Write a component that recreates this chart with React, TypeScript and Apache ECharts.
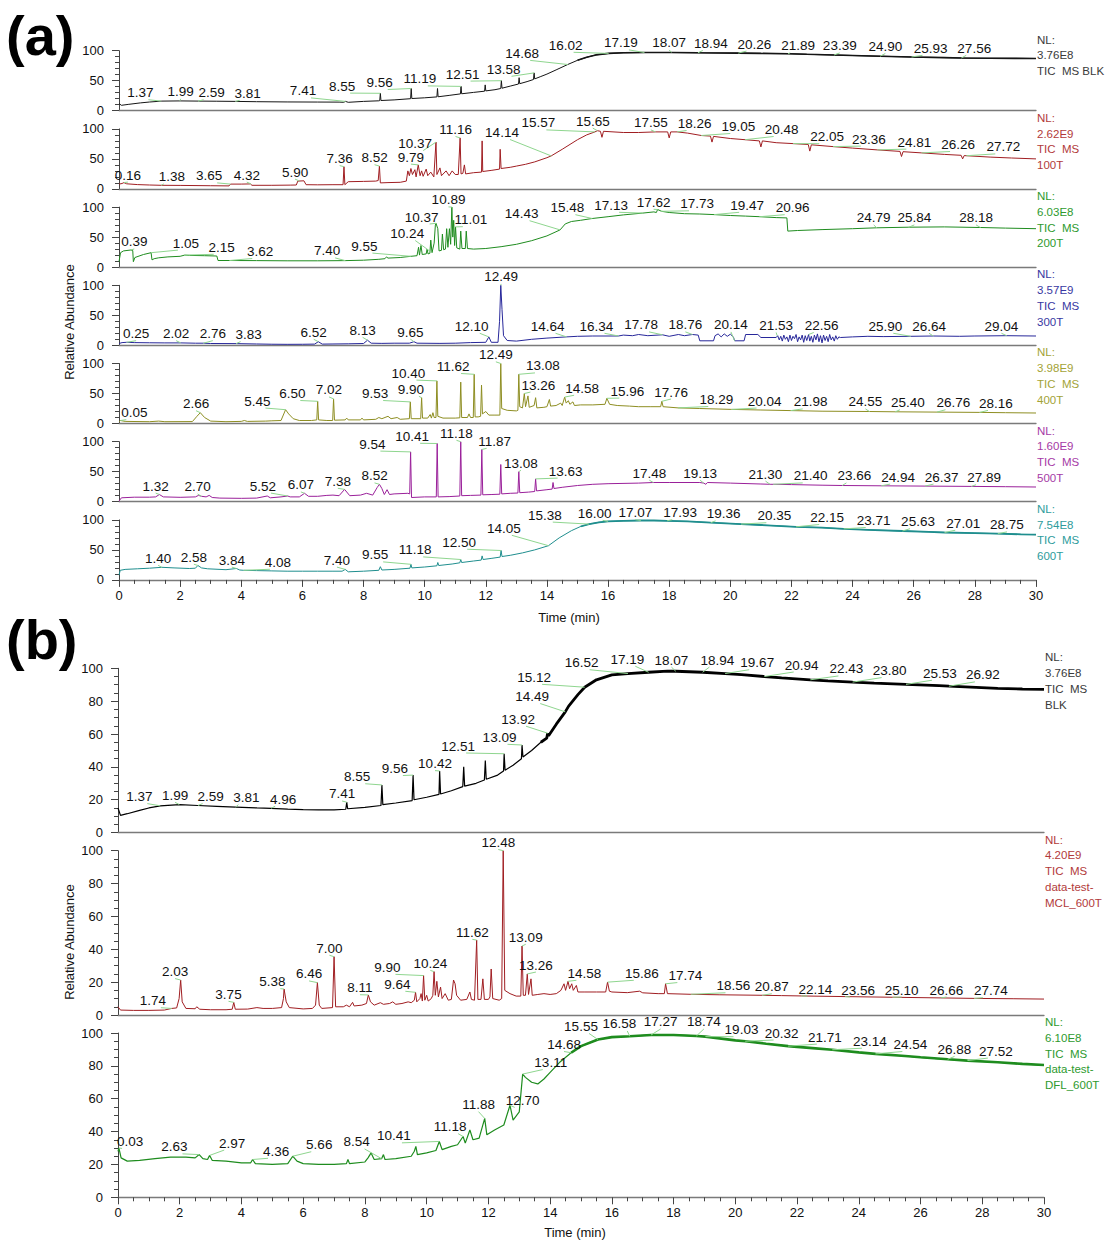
import React, { useEffect, useRef } from "react";
import * as echarts from "echarts";

type P = [number, number];
type L = [string, number, number];

// ---------- traces (time min, relative abundance %) ----------
const A1_BLK: P[] = [[0,12],[0.08,9],[0.3,10.5],[0.7,13],[1.0,14.5],[1.4,16],[2.0,16.3],[2.6,16],[3.2,15.8],[3.81,15.5],[4.5,15],[5.5,14.6],[6.5,14.4],[7.2,14.3],[7.35,14],[7.41,15.5],[7.5,14],[8.0,15.5],[8.5,16.5],[8.53,16.8],[8.55,29],[8.57,17],[9.0,18],[9.54,20],[9.56,37],[9.58,20.3],[10.0,21.5],[10.4,23],[10.42,37],[10.44,23.2],[10.8,25.5],[11.17,28],[11.19,40.5],[11.21,28.2],[11.6,30.5],[11.96,32.5],[11.98,43],[12.0,33],[12.3,35],[12.49,37],[12.51,50],[12.53,37.5],[12.8,41],[13.07,44.5],[13.09,55],[13.11,45],[13.35,48.5],[13.56,52],[13.58,63],[13.6,53],[13.8,57],[14.0,61],[14.3,68],[14.68,77],[15.0,84],[15.3,89],[15.6,93],[16.02,95.5],[16.5,96.5],[17.19,97],[18.07,97],[18.94,96.5],[20.26,96],[21.0,95.5],[21.89,95],[22.5,94],[23.39,92.8],[24.0,92],[24.9,90.8],[25.93,89.5],[27.0,88.5],[27.56,87.8],[28.5,87.3],[29.3,87.2],[30,87]];

const A2_100T: P[] = [[0,8],[0.1,9],[0.16,10.5],[0.25,8.5],[0.6,7.2],[1.0,6.5],[1.38,6],[2.0,5.8],[3.0,5.3],[3.6,5],[3.65,8],[4.0,8],[4.3,8.3],[4.35,6],[5.0,6],[5.6,6.3],[5.8,6.5],[5.85,13],[6.05,13.5],[6.12,7],[6.5,6.8],[7.0,7],[7.33,7],[7.36,37],[7.39,7],[7.5,12],[8.0,12.5],[8.4,13],[8.48,14],[8.52,38],[8.55,10],[8.8,10.5],[9.2,11],[9.4,13],[9.45,30],[9.5,22],[9.55,34],[9.6,24],[9.68,32],[9.72,20],[9.79,40],[9.85,22],[9.9,30],[9.95,21],[10.05,33],[10.1,22],[10.2,28],[10.3,20],[10.37,78],[10.4,24],[10.5,35],[10.55,22],[10.7,30],[10.8,22],[10.9,30],[11.0,24],[11.1,24],[11.16,85],[11.19,25],[11.25,26],[11.3,40],[11.34,25],[11.6,27],[11.86,28],[11.88,80],[11.9,29],[12.2,31],[12.45,33],[12.47,66],[12.5,34],[12.8,36],[13.0,38],[13.3,41],[13.6,45],[14.0,52],[14.14,55],[14.5,66],[15.0,82],[15.3,90],[15.57,95],[15.65,97],[15.75,96],[15.8,86],[15.85,96],[16.5,94],[17.0,94],[17.55,95],[17.95,95],[18.0,85],[18.05,95],[18.26,95],[18.6,93],[19.05,89],[19.35,88],[19.4,78],[19.45,87.5],[20.0,84],[20.48,82],[20.95,80],[21.0,70],[21.05,80],[21.5,77],[22.05,75.5],[22.55,74],[22.6,63],[22.65,73.5],[23.36,70.5],[24.0,68],[24.81,65],[25.55,62.5],[25.6,54],[25.65,62],[26.26,60],[27.0,57.5],[27.55,56],[27.6,50],[27.65,55.5],[28.5,53],[29.2,51.5],[30,50]];

const A3_200T: P[] = [[0,9],[0.05,24],[0.15,27],[0.39,28.5],[0.45,27.5],[0.47,9],[0.52,16],[0.8,21],[1.05,24],[1.08,12],[1.15,14],[1.3,15.5],[1.6,17],[2.0,18],[2.15,20],[2.3,19.5],[2.8,19],[3.2,18.5],[3.24,11],[3.62,11],[4.5,10.8],[5.5,10.5],[6.5,10.5],[7.4,10.8],[8.0,11.5],[8.5,13],[8.7,14],[8.75,17],[8.8,15],[9.2,16],[9.55,18],[9.75,19],[9.8,33],[9.83,20],[9.88,36],[9.92,21],[10.05,22],[10.08,30],[10.11,22],[10.17,23],[10.2,45],[10.24,24],[10.31,40],[10.35,70],[10.37,73],[10.43,64],[10.47,27],[10.55,28],[10.58,55],[10.62,29],[10.68,30],[10.72,64],[10.76,33],[10.81,64],[10.85,38],[10.89,100],[10.92,50],[10.95,78],[10.98,36],[11.01,67],[11.05,32],[11.15,30],[11.18,60],[11.22,31],[11.33,31],[11.36,60],[11.4,31],[11.6,30],[12.0,31],[12.5,34],[13.0,38],[13.5,44],[14.0,52],[14.43,62],[14.6,72],[14.8,76],[15.1,78],[15.48,81],[16.0,84],[16.5,87],[17.13,90],[17.5,92],[17.58,91],[17.62,96],[17.75,93],[18.0,91],[18.5,89],[19.0,88.5],[19.47,87.5],[20.0,86],[20.5,85],[20.96,84],[21.5,82.5],[21.85,82],[21.88,60],[22.2,61],[23.0,62.5],[24.0,64],[24.79,65.5],[25.84,66.5],[27.0,67],[28.18,66],[29.0,65],[30,64]];

const A4_300T: P[] = [[0,3],[0.1,4.5],[0.25,5],[0.5,4.5],[1.0,4.2],[1.5,4],[2.02,4],[2.5,3.5],[2.76,3.5],[3.0,3],[3.83,2.8],[4.5,2.2],[5.0,1.8],[5.5,1.6],[6.0,1.7],[6.4,2],[6.52,6],[6.65,2],[7.0,2.2],[7.5,2.5],[8.0,3],[8.13,8.5],[8.25,3.5],[8.6,3.2],[9.0,3.5],[9.5,3.5],[9.65,6],[9.75,3.5],[10.5,3.2],[11.0,3.5],[11.5,4.5],[12.0,5],[12.1,14],[12.18,5],[12.4,5],[12.45,40],[12.49,100],[12.53,60],[12.58,16],[12.7,8],[13.0,7],[13.5,10],[14.0,12],[14.64,14],[15.0,15],[15.5,15.5],[16.34,15.5],[16.5,17],[16.8,16],[17.0,18],[17.3,16],[17.78,17.5],[18.0,15],[18.3,18],[18.5,16],[18.76,18],[18.95,17],[19.0,7.5],[19.45,7.5],[19.5,16],[19.6,19],[19.7,14],[19.8,19],[19.9,15],[20.0,18.5],[20.1,14],[20.14,7.5],[20.45,7.5],[20.5,18],[20.9,18],[21.0,13],[21.5,13],[21.55,16],[21.6,9],[21.65,15],[21.7,7],[21.75,17],[21.8,10],[21.85,14],[21.9,6],[21.95,17],[22.0,8],[22.05,15],[22.1,11],[22.15,18],[22.2,6],[22.25,14],[22.3,9],[22.35,17],[22.4,5],[22.45,16],[22.5,8],[22.56,18],[22.6,7],[22.65,15],[22.7,5],[22.75,17],[22.8,9],[22.85,19],[22.9,6],[22.95,16],[23.0,4],[23.05,17],[23.1,8],[23.15,15],[23.2,6],[23.25,18],[23.3,9],[23.35,14],[23.4,7],[23.45,16],[23.5,10],[23.55,14],[23.6,13],[24.0,14],[24.5,15],[25.0,14.5],[25.9,15],[26.64,15.5],[27.5,15],[28.0,15.5],[29.04,16],[30,15.5]];

const A5_400T: P[] = [[0,3],[0.05,5],[0.2,3.5],[1.0,3],[1.3,4],[1.5,3],[2.4,3.2],[2.55,12],[2.66,18],[2.8,10],[3.0,4],[3.5,3],[4.0,3.5],[4.1,5],[4.2,3.5],[4.8,4],[5.0,4.5],[5.3,5],[5.45,23],[5.55,16],[5.7,8],[5.9,5],[6.3,5],[6.47,6],[6.5,37],[6.53,6],[6.8,5],[6.99,5],[7.02,41],[7.05,5.5],[7.4,6],[7.45,9],[7.5,6],[7.9,6],[7.95,9],[8.0,6],[8.4,7],[8.5,10],[8.6,8],[8.8,12],[8.9,8],[9.1,10],[9.2,7],[9.5,8],[9.53,36],[9.56,8],[9.87,8],[9.9,43],[9.93,9],[10.1,9],[10.18,15],[10.22,9],[10.27,18],[10.31,10],[10.37,10],[10.4,71],[10.43,12],[10.6,9],[11.0,9],[11.15,9.5],[11.18,69],[11.21,10],[11.4,10],[11.45,16],[11.5,10],[11.59,10],[11.62,82],[11.65,11],[11.75,11],[11.83,12],[11.86,64],[11.89,16],[12.0,20],[12.1,14],[12.3,14],[12.46,14],[12.49,100],[12.52,25],[12.7,22],[13.0,21],[13.05,22],[13.08,82],[13.11,28],[13.2,26],[13.26,50],[13.3,28],[13.38,46],[13.42,27],[13.58,30],[13.63,43],[13.67,26],[13.9,27],[14.0,28],[14.08,40],[14.12,29],[14.3,30],[14.45,34],[14.5,30],[14.58,44],[14.63,34],[14.7,38],[14.75,32],[14.85,36],[14.9,30],[15.1,31],[15.5,31],[15.9,32],[15.96,42],[16.05,32],[16.3,30],[16.7,29],[17.0,28],[17.4,28],[17.72,28],[17.76,37],[17.8,28],[18.29,26],[19.0,25],[20.04,23.5],[21.0,22.5],[21.98,21.5],[23.0,20.5],[24.55,20],[25.4,19.5],[26.76,19],[28.16,18.5],[29.0,18],[30,17.5]];

const A6_500T: P[] = [[0,1],[0.08,6.5],[0.5,7.5],[1.0,7.5],[1.2,8],[1.32,12],[1.45,8],[2.0,7.3],[2.5,8],[2.6,10.5],[2.7,9],[2.85,8],[2.95,10.5],[3.05,7],[3.3,6],[4.0,5.6],[4.5,6],[4.85,9.5],[4.95,6.5],[5.3,8],[5.52,9.5],[5.6,8],[5.9,8],[6.07,14],[6.2,9],[6.5,9],[6.8,10.5],[7.0,11],[7.2,10],[7.38,20.5],[7.55,10],[7.9,11],[8.1,14],[8.3,11],[8.45,24],[8.52,29],[8.6,22],[8.68,12],[8.77,20],[8.85,12],[9.0,13],[9.45,14],[9.51,13],[9.54,83],[9.57,7],[10.0,8],[10.38,8],[10.41,97],[10.44,8],[10.8,8.5],[11.15,9.5],[11.18,100],[11.21,10],[11.5,10.5],[11.84,11],[11.87,87],[11.9,11.5],[12.2,12],[12.46,12.5],[12.49,62],[12.52,13],[12.8,14],[13.05,14.5],[13.08,50],[13.11,15],[13.4,16],[13.6,17],[13.63,38],[13.66,18],[14.0,20],[14.17,21],[14.2,32],[14.23,22],[14.5,24],[15.0,27],[15.5,29],[16.0,30],[17.0,31],[17.48,32],[18.0,32],[19.0,32],[19.13,31],[19.2,29],[19.25,32],[20.0,31],[21.0,29.5],[21.3,29],[21.4,29],[22.0,28.5],[23.0,27.5],[23.66,27],[24.94,26.5],[26.37,26],[27.89,25.5],[29.0,25],[30,24.5]];

const A7_600T: P[] = [[0,8],[0.04,16],[0.2,17.5],[0.6,18.5],[1.0,19.5],[1.4,21],[1.8,20],[2.3,19],[2.5,19.5],[2.58,24],[2.7,20],[2.9,18.5],[3.5,17],[3.84,19],[3.95,16.5],[4.08,16],[4.5,15.5],[5.0,15],[5.5,14.5],[6.0,14.5],[6.5,14.5],[7.0,14.5],[7.3,14.5],[7.4,17.5],[7.5,13.5],[8.0,14.5],[8.5,16],[8.55,22],[8.6,16.5],[9.0,17.5],[9.52,19.5],[9.55,26],[9.58,20],[10.0,21.5],[10.4,23.5],[10.43,29],[10.46,24],[10.9,26.5],[11.15,28.5],[11.18,34],[11.21,29],[11.6,31.5],[11.85,33],[11.88,40],[11.91,34],[12.2,36],[12.47,38],[12.5,49],[12.53,39],[12.8,41],[13.2,45],[13.6,50],[14.05,57],[14.4,70],[14.8,82],[15.1,89],[15.38,93],[15.7,96],[16.0,97.5],[16.5,98.5],[17.07,99],[17.5,99],[17.93,98.5],[18.6,97.5],[19.36,95.5],[20.35,93],[21.0,91.5],[22.15,88.5],[23.0,87],[23.71,85],[24.5,83.5],[25.63,81.5],[26.5,80],[27.01,79],[28.0,78],[28.75,77],[29.5,76],[30,75.5]];

const B1_BLK: P[] = [[0,15],[0.08,10.5],[0.3,11.5],[0.7,13.5],[1.0,15],[1.37,16.3],[1.99,17],[2.59,16.5],[3.2,16],[3.81,15.5],[4.5,15],[4.96,14.8],[5.5,14.3],[6.0,14],[6.5,13.8],[7.0,13.8],[7.38,14.2],[7.41,18.5],[7.44,14.5],[8.0,15.3],[8.52,16.5],[8.55,29],[8.58,17],[9.0,18],[9.53,19.5],[9.56,35],[9.59,20],[10.0,21.5],[10.4,23.3],[10.42,37.5],[10.45,23.5],[10.8,25.5],[11.17,28],[11.2,40],[11.23,28.3],[11.6,30],[11.87,32],[11.9,43.8],[11.93,32.5],[12.3,35],[12.49,37.5],[12.51,48],[12.54,38],[12.8,41],[13.07,45],[13.09,53.3],[13.12,46],[13.4,50],[13.7,55],[13.89,57.5],[13.92,60.5],[13.95,59],[14.2,66],[14.49,73.5],[14.6,77],[14.9,84],[15.12,88.5],[15.5,93],[16.0,96],[16.52,96.8],[17.19,97.6],[17.8,98.3],[18.07,98.2],[18.94,97.6],[19.67,96.8],[20.2,96.2],[20.94,95],[21.5,94.2],[22.43,93],[23.0,92.4],[23.8,91.6],[24.5,91],[25.53,90.2],[26.6,89.4],[26.92,89.1],[27.8,88.4],[28.5,87.8],[29.3,87.4],[30,87.2]];

const B2_MCL: P[] = [[0,5],[0.08,3],[0.5,2.8],[1.0,2.8],[1.5,3],[1.74,4],[1.9,4.3],[1.98,10],[2.03,21.3],[2.08,8],[2.2,4],[2.5,3.8],[2.55,5],[2.65,3.5],[3.0,3.2],[3.5,3.2],[3.7,3.5],[3.75,7.7],[3.8,3.5],[4.2,3.6],[4.5,4.5],[4.7,4],[5.0,4],[5.3,4.5],[5.36,10],[5.38,15.8],[5.45,8],[5.55,4.5],[6.0,3.7],[6.3,4],[6.4,6],[6.46,19.7],[6.52,6],[6.6,4],[6.95,4.5],[7.0,35.5],[7.05,5],[7.3,5],[7.4,6],[7.5,5],[7.6,7.7],[7.65,5.5],[7.9,6],[8.05,7],[8.11,12.2],[8.18,8],[8.3,6],[8.5,7.5],[8.6,6.5],[8.8,7],[8.9,8],[9.0,6.5],[9.2,7],[9.4,8],[9.5,7.5],[9.6,9],[9.64,13.8],[9.68,8],[9.78,10],[9.82,13],[9.86,8.5],[9.9,24],[9.94,9],[10.0,12],[10.05,8.5],[10.15,10],[10.2,12],[10.24,26.4],[10.28,12],[10.33,20.5],[10.38,11],[10.45,17],[10.5,10],[10.6,13],[10.7,9],[10.8,9.5],[10.87,21.3],[10.92,19],[10.97,12],[11.1,9],[11.3,9.5],[11.4,14],[11.45,9.5],[11.55,9],[11.62,45.6],[11.66,9.5],[11.76,9.5],[11.82,22],[11.87,9.5],[12.0,9.5],[12.05,11],[12.09,28],[12.14,10],[12.35,9],[12.43,10],[12.48,100],[12.53,15],[12.7,13],[12.9,11.5],[13.05,11.5],[13.09,42],[13.13,12],[13.2,12],[13.26,25],[13.3,12.5],[13.38,22],[13.42,12],[13.6,12.5],[13.8,13],[14.0,12.5],[14.2,13],[14.35,15],[14.45,19],[14.5,15],[14.58,20.5],[14.63,16],[14.7,19],[14.75,15],[14.85,18],[14.9,14],[15.1,14],[15.5,14],[15.8,14],[15.86,20],[15.92,14.5],[16.0,14],[16.5,13.6],[16.9,14.5],[17.0,13.5],[17.5,13],[17.7,13],[17.74,19],[17.8,13],[18.56,12.6],[19.5,12.3],[20.87,12],[21.5,11.8],[22.14,11.6],[23.56,11.2],[25.1,10.8],[26.66,10.4],[27.74,10.1],[29,9.9],[30,9.7]];

const B3_DFL: P[] = [[0,28],[0.03,30],[0.1,24],[0.3,22],[0.7,22.5],[1.2,23.5],[1.7,24.5],[2.2,24.5],[2.5,24],[2.63,26],[2.75,23.5],[2.9,23],[2.97,25.5],[3.05,22.5],[3.5,22],[4.0,21],[4.3,21],[4.36,23],[4.45,20.5],[5.0,20],[5.5,20.5],[5.66,25],[5.8,22],[6.0,20.5],[6.5,20],[7.0,20],[7.4,20.5],[7.45,23],[7.5,20.5],[8.0,21.5],[8.1,24],[8.2,27],[8.3,23],[8.54,23.5],[8.6,26],[8.65,23],[9.0,23.5],[9.5,25],[9.6,28],[9.65,31],[9.7,26],[10.0,27],[10.3,28.5],[10.41,34],[10.5,29],[10.8,31],[11.0,32],[11.18,37],[11.25,33],[11.4,41],[11.5,35],[11.7,36],[11.88,48],[11.95,38],[12.2,41],[12.5,44],[12.7,56],[12.8,47],[13.0,52],[13.11,75],[13.2,73],[13.4,70],[13.6,69],[13.8,72],[14.0,76],[14.3,82],[14.68,88],[15.0,92],[15.55,96],[16.0,97.5],[16.58,98],[17.27,98.8],[18.0,98.8],[18.74,98.2],[19.03,97.8],[20.0,95.5],[20.32,95],[21.0,93.5],[21.71,92],[22.5,90.8],[23.14,89.8],[24.0,88.2],[24.54,87.3],[25.5,86],[26.0,85.2],[26.88,84],[27.52,83.2],[28.5,82.2],[29.3,81.2],[30,80.5]];

// ---------- peak labels: [retention time, label time, label abundance] ----------
const LA1: L[] = [["1.37",0.70,30],["1.99",2.02,31.5],["2.59",3.03,30],["3.81",4.21,29],["7.41",6.02,33],["8.55",7.30,41],["9.56",8.53,47],["11.19",9.84,53],["12.51",11.24,61],["13.58",12.58,69],["14.68",13.19,95.5],["16.02",14.61,109],["17.19",16.42,113],["18.07",18.0,113],["18.94",19.36,112],["20.26",20.79,111],["21.89",22.22,108],["23.39",23.58,108],["24.90",25.07,107],["25.93",26.55,104],["27.56",27.98,104]];
const LA2: L[] = [["0.16",0.29,23],["1.38",1.73,20],["3.65",2.95,21.7],["4.32",4.18,23],["5.90",5.76,28],["7.36",7.22,50.5],["8.52",8.36,52],["9.79",9.55,53],["10.37",9.69,75.5],["11.16",11.01,99],["14.14",12.53,94],["15.57",13.72,110],["15.65",15.5,113],["17.55",17.4,110],["18.26",18.83,109],["19.05",20.26,104],["20.48",21.68,99],["22.05",23.17,87],["23.36",24.53,83],["24.81",26.02,78],["26.26",27.45,74],["27.72",28.93,70]];
const LA3: L[] = [["0.39",0.5,42],["1.05",2.19,40],["2.15",3.36,33],["3.62",4.62,26],["7.40",6.81,27],["9.55",8.03,35],["10.24",9.43,56],["10.37",9.9,83.5],["10.89",10.78,112],["11.01",11.51,79],["14.43",13.17,89],["15.48",14.67,99],["17.13",16.1,103],["17.62",17.49,108],["17.73",18.91,105.5],["19.47",20.55,103],["20.96",22.04,99],["24.79",24.69,82],["25.84",26.02,82],["28.18",28.04,82]];
const LA4: L[] = [["0.25",0.56,19.4],["2.02",1.87,19.4],["2.76",3.07,19.4],["3.83",4.24,17.8],["6.52",6.37,21.7],["8.13",7.97,25],["9.65",9.53,22],["12.10",11.54,31.7],["12.49",12.5,114],["14.64",14.02,31.7],["16.34",15.62,31.7],["17.78",17.08,34],["18.76",18.53,34],["20.14",20.02,34],["21.53",21.5,33],["22.56",22.99,33],["25.90",25.07,31.7],["26.64",26.5,31.7],["29.04",28.87,31.7]];
const LA5: L[] = [["0.05",0.5,18],["2.66",2.52,33],["5.45",4.53,37.4],["6.50",5.67,50],["7.02",6.87,56],["9.53",8.38,50],["9.90",9.55,57],["10.40",9.47,84],["11.62",10.93,95],["12.49",12.33,114.5],["13.08",13.87,96],["13.26",13.72,64],["14.58",15.15,58.7],["15.96",16.63,54],["17.76",18.06,52.5],["18.29",19.54,40],["20.04",21.12,37.4],["21.98",22.63,36],["24.55",24.42,36],["25.40",25.81,34.6],["26.76",27.3,34.6],["28.16",28.69,33.5]];
const LA6: L[] = [["1.32",1.2,26],["2.70",2.57,24.6],["5.52",4.71,26],["6.07",5.95,28],["7.38",7.16,34],["8.52",8.36,43],["9.54",8.29,96],["10.41",9.59,109],["11.18",11.04,114],["11.87",12.29,100.6],["13.08",13.15,64],["13.63",14.61,51],["17.48",17.35,47.5],["19.13",19.01,47.5],["21.30",21.15,46],["21.40",22.63,43],["23.66",24.06,43],["24.94",25.49,41],["26.37",26.91,41],["27.89",28.3,40]];
const LA7: L[] = [["1.40",1.28,36],["2.58",2.45,37.8],["3.84",3.69,33],["4.08",5.2,29.4],["7.40",7.13,33],["9.55",8.38,41.7],["11.18",9.69,50],["12.50",11.13,62.8],["14.05",12.59,86],["15.38",13.93,108],["16.00",15.56,111],["17.07",16.89,112],["17.93",18.36,112],["19.36",19.78,110],["20.35",21.44,107],["22.15",23.17,104],["23.71",24.69,99],["25.63",26.14,97],["27.01",27.62,94.4],["28.75",29.05,91.7]];
const LB1: L[] = [["1.37",0.69,21.9],["1.99",1.85,22.7],["2.59",3.0,21.9],["3.81",4.16,21.3],["4.96",5.35,20.3],["7.41",7.26,23.5],["8.55",7.75,34],["9.56",8.97,39],["10.42",10.27,42],["12.51",11.02,52.7],["13.09",12.36,58],["13.92",12.96,69],["14.49",13.42,82.8],["15.12",13.48,94.5],["16.52",15.02,103.4],["17.19",16.5,105.5],["18.07",17.93,105],["18.94",19.42,105],["19.67",20.71,103.4],["20.94",22.15,102],["22.43",23.6,99.6],["23.80",25.0,98.6],["25.53",26.63,97],["26.92",28.02,96]];
const LB2: L[] = [["1.74",1.13,8.7],["2.03",1.85,26.4],["3.75",3.58,12.6],["5.38",5.0,20.3],["6.46",6.19,25],["7.00",6.85,40.6],["8.11",7.84,16.6],["9.90",8.73,29],["9.64",9.05,18.7],["10.24",10.12,31.4],["11.62",11.48,50.3],["12.48",12.32,105],["13.09",13.21,47.3],["13.26",13.54,30.4],["14.58",15.11,25.4],["15.86",16.97,25.4],["17.74",18.38,24],["18.56",19.94,17.8],["20.87",21.18,17.2],["22.14",22.59,15.8],["23.56",23.98,15.2],["25.10",25.39,15.2],["26.66",26.84,15.2],["27.74",28.28,14.8]];
const LB3: L[] = [["0.03",0.39,34],["2.63",1.83,30.7],["2.97",3.7,33],["4.36",5.12,28],["5.66",6.52,32],["8.54",7.73,33.7],["10.41",8.94,37.4],["11.18",10.76,43],["11.88",11.68,56.4],["12.70",13.11,59],["13.11",14.02,82],["14.68",14.45,93],["15.55",15.0,104],["16.58",16.24,105.5],["17.27",17.58,106.7],["18.74",18.98,106.7],["19.03",20.2,102],["20.32",21.5,100],["21.71",22.9,97.5],["23.14",24.36,95],["24.54",25.67,93],["26.88",27.1,90],["27.52",28.44,89]];

// ---------- right-hand captions ----------
const NL_VALUES = ["3.76E8", "2.62E9", "6.03E8", "3.57E9", "3.98E9", "1.60E9", "7.54E8", "3.76E8", "4.20E9", "6.10E8"];
const SAMPLE_LINES: string[][] = [["TIC  MS BLK"], ["TIC  MS", "100T"], ["TIC  MS", "200T"], ["TIC  MS", "300T"], ["TIC  MS", "400T"], ["TIC  MS", "500T"], ["TIC  MS", "600T"], ["TIC  MS", "BLK"], ["TIC  MS", "data-test-", "MCL_600T"], ["TIC  MS", "data-test-", "DFL_600T"]];

const TRACES = [A1_BLK, A2_100T, A3_200T, A4_300T, A5_400T, A6_500T, A7_600T, B1_BLK, B2_MCL, B3_DFL];
const LABELS = [LA1, LA2, LA3, LA4, LA5, LA6, LA7, LB1, LB2, LB3];

// ---------- styles / layout ----------
const FONT = 'Arial, "Liberation Sans", Helvetica, sans-serif';
const LINE_COLORS = ["#151515", "#A01E22", "#1F8C1F", "#27279A", "#8E8E22", "#9A209A", "#1F8E8E", "#000000", "#A01E22", "#1E8C1E"];
const NL_COLORS = ["#3A3A3A", "#B23A3A", "#2E9A2E", "#3838A2", "#A3A336", "#A63AA6", "#2E9C9C", "#3A3A3A", "#B23A3A", "#2E9A2E"];
const LINE_WIDTHS = [1, 1, 1, 1, 1, 1, 1, 1.2, 1, 1.2];
const THICK_FROM = [15, 99, 99, 99, 99, 99, 15, 13.7, 99, 14.6];
const THICK_WIDTHS = [1.6, 1, 1, 1, 1, 1, 1.8, 2.8, 1, 2.6];

const A_LEFT = 119, A_WIDTH = 917, A_TOP0 = 50.7, A_STEP = 78.2, A_HEIGHT = 60;
const B_LEFT = 118, B_WIDTH = 926, B_TOPS = [668.3, 850.7, 1033], B_HEIGHT = 164.3;

function gridRect(i: number) {
  if (i < 7) return { left: A_LEFT, top: A_TOP0 + i * A_STEP, width: A_WIDTH, height: A_HEIGHT };
  return { left: B_LEFT, top: B_TOPS[i - 7], width: B_WIDTH, height: B_HEIGHT };
}

function peakValue(trace: P[], rt: number): number {
  let best = -Infinity;
  for (const [t, v] of trace) if (Math.abs(t - rt) <= 0.035) best = Math.max(best, v);
  if (best > -Infinity) return best;
  for (let k = 1; k < trace.length; k++) {
    const [t0, v0] = trace[k - 1];
    const [t1, v1] = trace[k];
    if (rt >= t0 && rt <= t1) return v0 + ((v1 - v0) * (rt - t0)) / (t1 - t0);
  }
  return 0;
}

function buildOption() {
  const grids: any[] = [];
  const xAxes: any[] = [];
  const yAxes: any[] = [];
  const series: any[] = [];
  const graphics: any[] = [];

  for (let i = 0; i < 10; i++) {
    const r = gridRect(i);
    const isA = i < 7;
    const bottom = i === 6 || i === 9;
    grids.push({ left: r.left, top: r.top, width: r.width, height: r.height, containLabel: false });
    xAxes.push({
      type: "value", gridIndex: i, min: 0, max: 30, interval: 2,
      axisLine: { show: true, onZero: false, lineStyle: { color: "#7A7A7A", width: 1.3 } },
      axisTick: { show: bottom, length: 7, lineStyle: { color: "#444", width: 1 } },
      minorTick: { show: bottom, splitNumber: 4, length: 4, lineStyle: { color: "#444", width: 1 } },
      axisLabel: { show: bottom, fontSize: 13, color: "#111", margin: 9, fontFamily: FONT },
      splitLine: { show: false }, minorSplitLine: { show: false },
    });
    yAxes.push({
      type: "value", gridIndex: i, min: 0, max: 100, interval: isA ? 50 : 20,
      axisLine: { show: true, lineStyle: { color: "#444", width: 1 } },
      axisTick: { show: true, length: 7, lineStyle: { color: "#444" } },
      minorTick: { show: true, splitNumber: isA ? 5 : 4, length: 4, lineStyle: { color: "#444" } },
      axisLabel: { fontSize: 13, color: "#111", margin: 15, fontFamily: FONT },
      splitLine: { show: false }, minorSplitLine: { show: false },
    });

    const trace = TRACES[i];
    series.push({
      type: "line", xAxisIndex: i, yAxisIndex: i, data: trace, symbol: "none", showSymbol: false,
      lineStyle: { color: LINE_COLORS[i], width: LINE_WIDTHS[i] }, z: 2, silent: true,
    });
    const thick = trace.filter((p) => p[0] >= THICK_FROM[i]);
    if (thick.length > 1) {
      series.push({
        type: "line", xAxisIndex: i, yAxisIndex: i, data: thick, symbol: "none", showSymbol: false,
        lineStyle: { color: LINE_COLORS[i], width: THICK_WIDTHS[i] }, z: 2, silent: true,
      });
    }

    const labels = LABELS[i];
    const data = labels.map(([s, lt, lv]) => {
      const rt = parseFloat(s);
      return [lt, lv, rt, peakValue(trace, rt)];
    });
    series.push({
      type: "custom", xAxisIndex: i, yAxisIndex: i, coordinateSystem: "cartesian2d", clip: false, silent: true, z: 5,
      data,
      renderItem: (params: any, api: any) => {
        const p = api.coord([api.value(0), api.value(1)]);
        const q = api.coord([api.value(2), api.value(3)]);
        const txt = labels[params.dataIndex][0];
        const dx = q[0] - p[0];
        const sx = Math.abs(dx) < 10 ? p[0] : p[0] + Math.sign(dx) * 8;
        const sy = p[1] + 7;
        return {
          type: "group",
          children: [
            { type: "line", shape: { x1: sx, y1: sy, x2: q[0], y2: q[1] }, style: { stroke: "#8FD68F", lineWidth: 1 } },
            { type: "text", x: p[0], y: p[1], style: { text: txt, fontSize: 13.5, fontFamily: FONT, fill: "#111", align: "center", verticalAlign: "middle" } },
          ],
        };
      },
    });

    const lines = ["NL:", NL_VALUES[i], ...SAMPLE_LINES[i]];
    graphics.push({
      type: "text", x: r.left + r.width + 1, y: r.top - 19, silent: true,
      style: { text: lines.join("\n"), fontSize: 11.5, fontFamily: FONT, fill: NL_COLORS[i], lineHeight: 15.8, align: "left", verticalAlign: "top" },
    });
  }

  const bigFont = { fontSize: 56, fontWeight: "bold", fontFamily: FONT, fill: "#000" };
  graphics.push({ type: "text", x: 6, y: 35, style: { text: "(a)", ...bigFont, align: "left", verticalAlign: "middle" } });
  graphics.push({ type: "text", x: 6, y: 639, style: { text: "(b)", ...bigFont, align: "left", verticalAlign: "middle" } });
  const axisNameStyle = { fontSize: 13, fontFamily: FONT, fill: "#111" };
  graphics.push({ type: "text", x: 69, y: 322, rotation: Math.PI / 2, style: { text: "Relative Abundance", ...axisNameStyle, align: "center", verticalAlign: "middle" } });
  graphics.push({ type: "text", x: 69, y: 942, rotation: Math.PI / 2, style: { text: "Relative Abundance", ...axisNameStyle, align: "center", verticalAlign: "middle" } });
  graphics.push({ type: "text", x: 569, y: 617, style: { text: "Time (min)", ...axisNameStyle, align: "center", verticalAlign: "middle" } });
  graphics.push({ type: "text", x: 575, y: 1232, style: { text: "Time (min)", ...axisNameStyle, align: "center", verticalAlign: "middle" } });

  return {
    animation: false,
    backgroundColor: "#ffffff",
    grid: grids,
    xAxis: xAxes,
    yAxis: yAxes,
    series,
    graphic: graphics,
  };
}

export default function App() {
  const ref = useRef<HTMLDivElement>(null);
  useEffect(() => {
    if (!ref.current) return;
    const chart = echarts.init(ref.current, undefined, { renderer: "svg" });
    chart.setOption(buildOption() as any);
    return () => chart.dispose();
  }, []);
  return (
    <div
      ref={ref}
      style={{ position: "absolute", left: 0, top: 0, width: 1110, height: 1242, background: "#fff" }}
    />
  );
}
